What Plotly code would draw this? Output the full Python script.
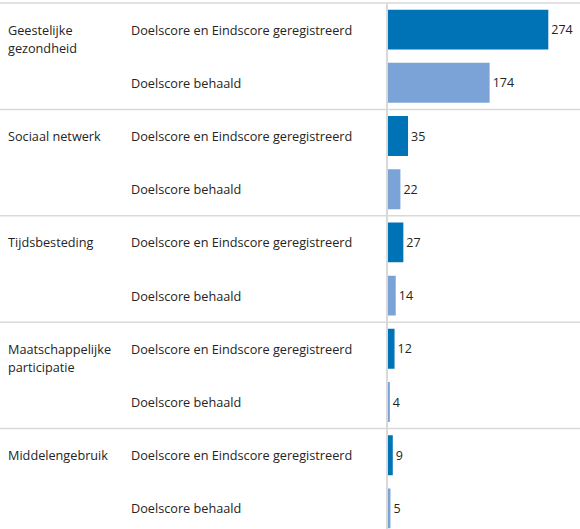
import plotly.graph_objects as go

groups = ["Geestelijke\ngezondheid", "Sociaal netwerk", "Tijdsbesteding",
          "Maatschappelijke\nparticipatie", "Middelengebruik"]
measures = ["Doelscore en Eindscore geregistreerd", "Doelscore behaald"]
values = [[274, 174], [35, 22], [27, 14], [12, 4], [9, 5]]
colors = ["#0073B7", "#7BA3D7"]

W, H = 580, 529
LEFT = 387.5
FONT = "Open Sans"
FS = 12.7
TXT = "#252423"
GRID = "#d9d9d9"
ROW_PX = 53.2

ys, xs, cs, texts = [], [], [], []
for gi, vals in enumerate(values):
    for mi, v in enumerate(vals):
        ys.append(gi * 2 + mi)
        xs.append(v)
        cs.append(colors[mi])
        texts.append(str(v))

fig = go.Figure(go.Bar(
    x=xs, y=ys, orientation="h", marker=dict(color=cs, line=dict(width=0)),
    text=texts, textposition="outside", cliponaxis=False,
    textfont=dict(family=FONT, size=12.5, color=TXT), width=0.75,
    hoverinfo="skip",
))

ann = []
shapes = [dict(type="line", xref="paper", x0=0, x1=1, yref="paper", y0=1, y1=1,
               line=dict(color=GRID, width=1.5))]
for gi, g in enumerate(groups):
    for li, line in enumerate(g.split("\n")):
        ann.append(dict(x=6 / W, xref="paper", y=gi * 2, yref="y", text=line,
                        xanchor="left", yanchor="middle", yshift=-18 * li,
                        showarrow=False, align="left",
                        font=dict(family=FONT, size=FS, color=TXT)))
    for mi, m in enumerate(measures):
        ann.append(dict(x=129 / W, xref="paper", y=gi * 2 + mi, yref="y", text=m,
                        xanchor="left", yanchor="middle", showarrow=False,
                        font=dict(family=FONT, size=FS, color=TXT)))
    if gi > 0:
        shapes.append(dict(type="line", xref="paper", x0=0, x1=1, yref="y",
                           y0=gi * 2 - 0.5, y1=gi * 2 - 0.5,
                           line=dict(color=GRID, width=1.5)))

visible_rows = (H - 3) / ROW_PX
fig.update_layout(
    width=W, height=H, margin=dict(l=0, r=0, t=3, b=0),
    paper_bgcolor="white", plot_bgcolor="white", showlegend=False,
    annotations=ann, shapes=shapes, bargap=0.25,
    xaxis=dict(domain=[LEFT / W, 1], range=[0, 328], showgrid=False,
               zeroline=False, showticklabels=False, ticks=""),
    yaxis=dict(range=[-0.5 + visible_rows, -0.5], showgrid=False, zeroline=False,
               showticklabels=False, ticks="", showline=True,
               linecolor=GRID, linewidth=1.5),
)
fig.write_html("out.html", config={"displayModeBar": False},
               post_script="document.body.style.margin='0';document.body.style.overflow='hidden';")
